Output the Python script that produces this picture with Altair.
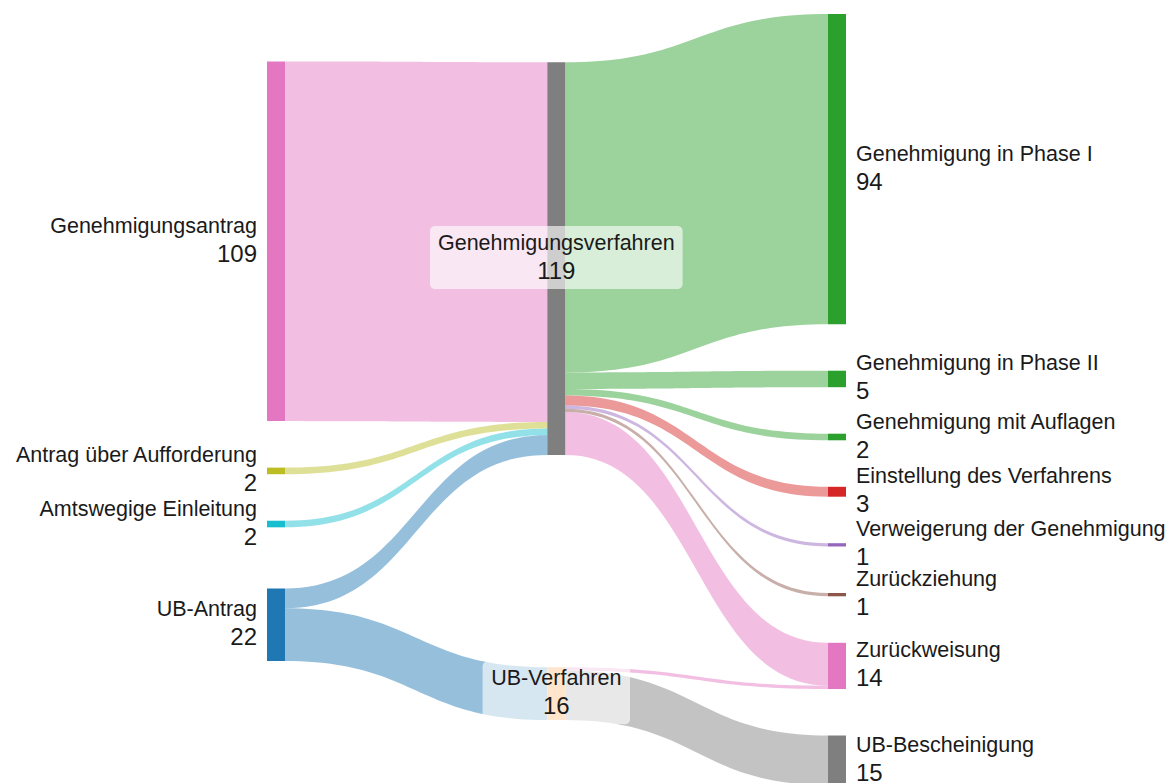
import altair as alt
import pandas as pd
import numpy as np

# ---------------- data ----------------
node_names = [
    "Genehmigungsantrag", "Antrag über Aufforderung", "Amtswegige Einleitung", "UB-Antrag",
    "Genehmigungsverfahren", "UB-Verfahren",
    "Genehmigung in Phase I", "Genehmigung in Phase II", "Genehmigung mit Auflagen",
    "Einstellung des Verfahrens", "Verweigerung der Genehmigung", "Zurückziehung",
    "Zurückweisung", "UB-Bescheinigung",
]
node_columns = [0, 0, 0, 0, 1, 1, 2, 2, 2, 2, 2, 2, 2, 2]
node_colors = [
    "#e377c2", "#bcbd22", "#17becf", "#1f77b4",
    "#7f7f7f", "#ffbb78",
    "#2ca02c", "#2ca02c", "#2ca02c", "#d62728", "#9467bd", "#8c564b", "#e377c2", "#7f7f7f",
]

link_sources = [
    "Genehmigungsantrag", "Antrag über Aufforderung", "Amtswegige Einleitung", "UB-Antrag", "UB-Antrag",
    "Genehmigungsverfahren", "Genehmigungsverfahren", "Genehmigungsverfahren", "Genehmigungsverfahren",
    "Genehmigungsverfahren", "Genehmigungsverfahren", "Genehmigungsverfahren",
    "UB-Verfahren", "UB-Verfahren",
]
link_targets = [
    "Genehmigungsverfahren", "Genehmigungsverfahren", "Genehmigungsverfahren", "Genehmigungsverfahren", "UB-Verfahren",
    "Genehmigung in Phase I", "Genehmigung in Phase II", "Genehmigung mit Auflagen",
    "Einstellung des Verfahrens", "Verweigerung der Genehmigung", "Zurückziehung", "Zurückweisung",
    "Zurückweisung", "UB-Bescheinigung",
]
link_values = [109, 2, 2, 6, 16, 94, 5, 2, 3, 1, 1, 13, 1, 15]

# ---------------- layout (style constants) ----------------
W, H = 1158, 775
COL_X = [259.0, 539.3, 820.0]
NODE_W = 18.0
TOP, BOTTOM, PAD = 6.0, 777.0, 46.5
ITERATIONS, ALPHA = 14, 0.5
LINK_OPACITY = 0.47
FONT = "Liberation Sans"
NAME_SIZE, VALUE_SIZE = 21.5, 24
TEXT_COLOR = "#1a1a1a"

n = len(node_names)
L = len(link_values)
idx = {name: i for i, name in enumerate(node_names)}
src = [idx[s] for s in link_sources]
tgt = [idx[t] for t in link_targets]
val_in = np.zeros(n)
val_out = np.zeros(n)
for s, t, v in zip(src, tgt, link_values):
    val_out[s] += v
    val_in[t] += v
node_val = np.maximum(val_in, val_out)
columns = [[i for i in range(n) if node_columns[i] == c] for c in range(3)]
ky = min((BOTTOM - TOP - (len(c) - 1) * PAD) / node_val[c].sum() for c in columns)
hgt = node_val * ky
lw = np.array(link_values, dtype=float) * ky

y0 = np.zeros(n)
for c in columns:
    y = TOP
    for i in c:
        y0[i] = y
        y += hgt[i] + PAD


def slots():
    sy = np.zeros(L)
    ty = np.zeros(L)
    for i in range(n):
        outs = sorted([l for l in range(L) if src[l] == i], key=lambda l: y0[tgt[l]])
        y = y0[i]
        for l in outs:
            sy[l] = y
            y += lw[l]
        ins = sorted([l for l in range(L) if tgt[l] == i], key=lambda l: y0[src[l]])
        y = y0[i]
        for l in ins:
            ty[l] = y
            y += lw[l]
    return sy, ty


def resolve(c):
    y = TOP
    for i in c:
        if y0[i] < y:
            y0[i] = y
        y = y0[i] + hgt[i] + PAD
    if y - PAD > BOTTOM:
        y = BOTTOM
        for i in reversed(c):
            if y0[i] + hgt[i] > y:
                y0[i] = y - hgt[i]
            y = y0[i] - PAD


for it in range(ITERATIONS):
    for c in (1, 0, 2):
        sy, ty = slots()
        for i in columns[c]:
            num = den = 0.0
            for l in range(L):
                if tgt[l] == i:
                    num += (sy[l] - (ty[l] - y0[i])) * link_values[l]
                    den += link_values[l]
                elif src[l] == i:
                    num += (ty[l] - (sy[l] - y0[i])) * link_values[l]
                    den += link_values[l]
            if den > 0:
                y0[i] += ALPHA * (num / den - y0[i])
        resolve(columns[c])

sy, ty = slots()

# ---------------- tables ----------------
ts = np.linspace(0, 1, 49)
link_rows = []
for l in range(L):
    s, t = src[l], tgt[l]
    xa = COL_X[node_columns[s]] + NODE_W
    xb = COL_X[node_columns[t]]
    col = node_colors[s] if node_columns[s] == 0 else node_colors[t]
    for tt in ts:
        bx = 1.5 * tt * (1 - tt) + tt ** 3
        by = 3 * tt * tt - 2 * tt ** 3
        yt = sy[l] + (ty[l] - sy[l]) * by
        link_rows.append(dict(link=l, x=xa + (xb - xa) * bx, y=yt, y2=yt + lw[l], color=col))
links_df = pd.DataFrame(link_rows)

ARIAL = {'G': 778, 'e': 556, 'n': 556, 'h': 556, 'm': 833, 'i': 222, 'g': 556, 'u': 556, 's': 500,
         'v': 500, 'r': 333, 'f': 278, 'a': 556, 'U': 722, 'B': 667, '-': 333, 'V': 667, ' ': 278,
         't': 278, 'l': 222, 'c': 500, 'k': 500, 'z': 500, 'd': 556, 'o': 556}


def text_w(s, size):
    return sum(ARIAL.get(ch, 556) for ch in s) / 1000 * size


node_rows = []
for i in range(n):
    c = node_columns[i]
    cy = y0[i] + hgt[i] / 2
    if c == 0:
        lx = COL_X[0] - 10
    elif c == 1:
        lx = COL_X[1] + NODE_W / 2
    else:
        lx = COL_X[2] + NODE_W + 10
    tw = text_w(node_names[i], NAME_SIZE)
    node_rows.append(dict(
        name=node_names[i], value=str(int(node_val[i])), col=c, color=node_colors[i],
        x=COL_X[c], x2=COL_X[c] + NODE_W, y=y0[i], y2=y0[i] + hgt[i],
        lx=lx, cy=cy, bx=lx - tw / 2 - 8, bx2=lx + tw / 2 + 8, by=cy - 32.5, by2=cy + 30.5,
    ))
nodes_df = pd.DataFrame(node_rows)

xs = alt.Scale(domain=[0, W], nice=False, zero=False)
ys = alt.Scale(domain=[0, H], nice=False, zero=False, reverse=True)

links = alt.Chart(links_df).mark_area(opacity=LINK_OPACITY, interpolate="linear").encode(
    x=alt.X("x:Q", scale=xs, axis=None),
    y=alt.Y("y:Q", scale=ys, axis=None),
    y2="y2:Q",
    detail="link:N",
    color=alt.Color("color:N", scale=None),
)

nodes = alt.Chart(nodes_df).mark_rect().encode(
    x=alt.X("x:Q", scale=xs, axis=None), x2="x2:Q",
    y=alt.Y("y:Q", scale=ys, axis=None), y2="y2:Q",
    color=alt.Color("color:N", scale=None),
)

mid_df = nodes_df[nodes_df.col == 1]
boxes = alt.Chart(mid_df).mark_rect(fill="white", opacity=0.62, cornerRadius=5).encode(
    x=alt.X("bx:Q", scale=xs, axis=None), x2="bx2:Q",
    y=alt.Y("by:Q", scale=ys, axis=None), y2="by2:Q",
)

layers = [links, nodes, boxes]
for c, align in ((0, "right"), (1, "center"), (2, "left")):
    d = nodes_df[nodes_df.col == c]
    base = alt.Chart(d).encode(
        x=alt.X("lx:Q", scale=xs, axis=None),
        y=alt.Y("cy:Q", scale=ys, axis=None),
    )
    layers.append(base.mark_text(align=align, baseline="alphabetic", dy=-8.5, font=FONT,
                                 fontSize=NAME_SIZE, color=TEXT_COLOR).encode(text="name:N"))
    layers.append(base.mark_text(align=align, baseline="alphabetic", dy=20.5, font=FONT,
                                 fontSize=VALUE_SIZE, color=TEXT_COLOR).encode(text="value:N"))

chart = alt.layer(*layers).properties(
    width=W, height=H, padding=0, autosize=alt.AutoSizeParams(type="none"),
).configure_view(stroke=None)

chart.save("out.html", embed_options={"renderer": "svg", "actions": False})
